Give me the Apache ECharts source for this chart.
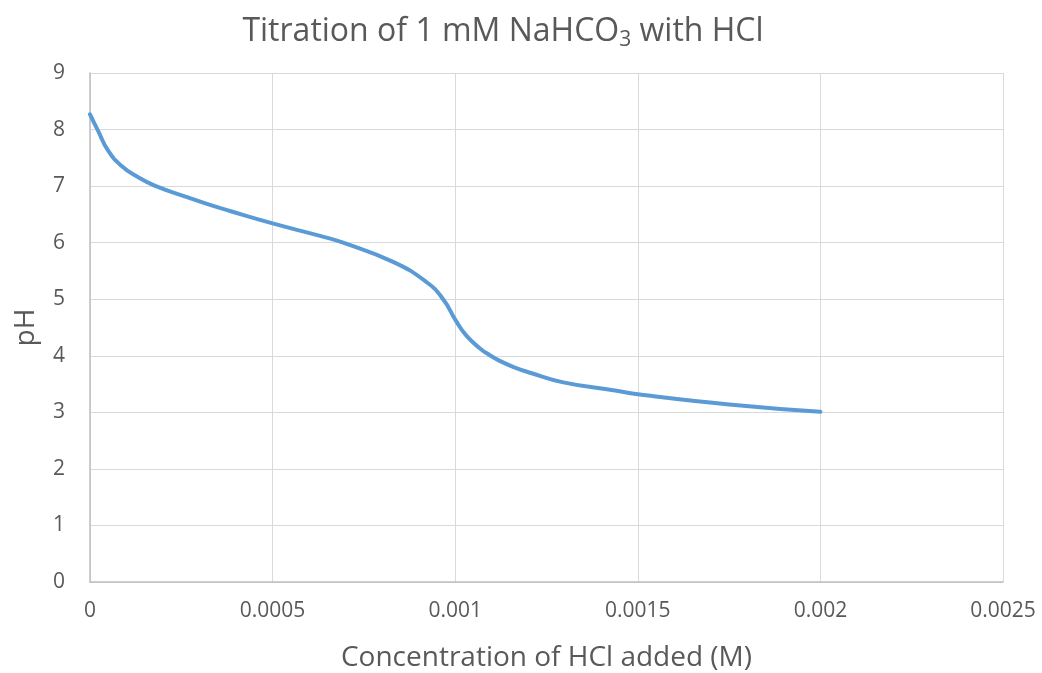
<!DOCTYPE html>
<html>
<head>
<meta charset="utf-8">
<script src="https://cdn.jsdelivr.net/npm/echarts@6/dist/echarts.min.js"></script>
<style>html,body{margin:0;padding:0;background:#fff}#c{width:1042px;height:673px}</style>
</head>
<body>
<div id="c"></div>
<script>
// HCl concentration added (M)
const hclAdded = [0, 0.0000219, 0.0000493, 0.0000858, 0.000131, 0.000177, 0.000268, 0.000318, 0.000383, 0.0005,
  0.00063, 0.000693, 0.00083, 0.000922, 0.000967, 0.001001, 0.00103, 0.001068, 0.001095, 0.001122,
  0.00116, 0.001205, 0.001296, 0.001433, 0.0015, 0.00175, 0.002];
// pH values
const pHValues = [8.27, 7.98, 7.63, 7.36, 7.16, 7.01, 6.80, 6.69, 6.56, 6.34,
  6.12, 6.00, 5.66, 5.30, 5.0, 4.63, 4.36, 4.13, 4.01, 3.91,
  3.80, 3.70, 3.53, 3.39, 3.32, 3.14, 3.01];
const xTickLabels = ['0', '0.0005', '0.001', '0.0015', '0.002', '0.0025'];
const yTickLabels = ['0', '1', '2', '3', '4', '5', '6', '7', '8', '9'];

const FONT = 'Open Sans';
const chart = echarts.init(document.getElementById('c'));
chart.setOption({
  animation: false,
  title: {
    text: '{a|Titration of 1 mM NaHCO}{s|3}{a| with HCl}',
    left: 498,
    textAlign: 'center',
    top: 8,
    textStyle: {
      fontWeight: 'normal',
      rich: {
        a: { fontFamily: FONT, fontSize: 32, fontWeight: 'normal', color: '#595959' },
        s: { fontFamily: FONT, fontSize: 21, fontWeight: 'normal', color: '#595959', verticalAlign: 'bottom', padding: [17, 0, 0, 0] }
      }
    }
  },
  grid: { left: 90, right: 39, top: 73, bottom: 91, containLabel: false, outerBoundsMode: 'none' },
  xAxis: {
    type: 'value', min: 0, max: 0.0025, interval: 0.0005,
    name: 'Concentration of HCl added (M)', nameLocation: 'middle', nameGap: 62,
    nameTextStyle: { fontFamily: FONT, fontSize: 28, color: '#595959' },
    axisLine: { show: true, lineStyle: { color: '#bfbfbf', width: 1.5 } },
    axisTick: { show: false },
    axisLabel: { fontFamily: FONT, fontSize: 21, color: '#595959', margin: 19,
      formatter: (v) => xTickLabels[Math.round(v / 0.0005)] },
    splitLine: { show: true, lineStyle: { color: '#d9d9d9', width: 1 } }
  },
  yAxis: {
    type: 'value', min: 0, max: 9, interval: 1,
    name: 'pH', nameLocation: 'middle', nameGap: 50, nameRotate: 90,
    nameTextStyle: { fontFamily: FONT, fontSize: 28, color: '#595959' },
    axisLine: { show: true, lineStyle: { color: '#bfbfbf', width: 1.5 } },
    axisTick: { show: false },
    axisLabel: { fontFamily: FONT, fontSize: 21, color: '#595959', margin: 25,
      formatter: (v) => yTickLabels[Math.round(v)] },
    splitLine: { show: true, lineStyle: { color: '#d9d9d9', width: 1 } }
  },
  series: [{
    type: 'line',
    data: hclAdded.map((x, i) => [x, pHValues[i]]),
    smooth: 0.5,
    showSymbol: false,
    lineStyle: { color: '#5b9bd5', width: 4, cap: 'round' }
  }]
});
</script>
</body>
</html>
